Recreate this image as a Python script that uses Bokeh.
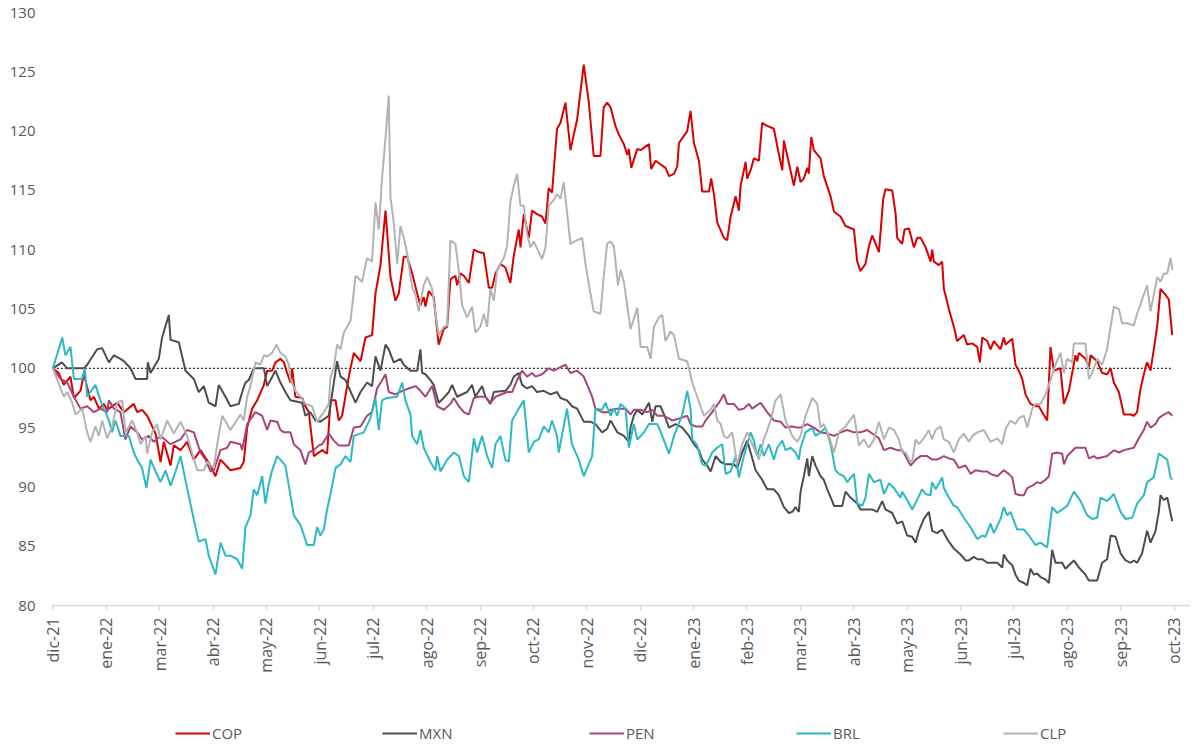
from bokeh.plotting import figure
from bokeh.models import Range1d, FixedTicker, Legend, LegendItem
from bokeh.embed import file_html
from bokeh.resources import INLINE

# x = days since 31-dic-2021 (index base 100 on that date)
tick_labels = ["dic-21", "ene-22", "mar-22", "abr-22", "may-22", "jun-22", "jul-22",
               "ago-22", "sep-22", "oct-22", "nov-22", "dic-22", "ene-23", "feb-23",
               "mar-23", "abr-23", "may-23", "jun-23", "jul-23", "ago-23", "sep-23", "oct-23"]
tick_step_days = 31
y_ticks = [80, 85, 90, 95, 100, 105, 110, 115, 120, 125, 130]
series_names = ["COP", "MXN", "PEN", "BRL", "CLP"]
series_colors = ["#d90000", "#4d4d4d", "#a8437c", "#2cb9c6", "#b3b3b3"]
base_level = 100

cop = [(0.0,100.0),(3.4,99.6),(6.3,98.6),(10.2,99.3),(12.2,97.5),(16.0,98.1),(18.0,99.5),(21.8,97.3),(23.8,97.6),(26.7,96.6),
       (29.6,97.0),(31.5,96.5),(37.3,97.1),(41.2,96.3),(47.0,97.0),(48.9,96.3),(51.8,96.5),(54.7,96.0),(59.6,94.5),(62.5,92.1),
       (64.4,93.8),(68.3,91.8),(70.2,93.5),(74.1,93.1),(77.9,93.8),(81.8,92.3),(85.7,93.1),(91.5,91.8),(94.4,90.9),(97.3,92.3),
       (103.1,91.4),(108.9,91.6),(110.8,92.1),(112.8,95.0),(115.7,96.6),(118.6,97.3),(122.5,98.6),(124.4,99.8),(127.3,99.8),(129.2,100.5),
       (132.1,100.8),(134.1,100.5),(136.0,99.6),(137.9,98.8),(138.9,100.0),(140.8,97.6),(144.7,97.5),(146.6,96.8),(148.6,96.3),(151.5,92.6),
       (153.4,92.8),(156.3,93.1),(159.2,92.8),(161.2,97.3),(164.1,97.3),(166.0,95.6),(167.9,96.0),(171.8,99.3),(174.7,101.3),(178.6,100.6),
       (181.5,102.6),(185.3,102.8),(187.3,106.3),(190.2,108.7),(193.1,113.3),(196.0,107.7),(198.9,105.7),(200.8,106.3),(203.7,109.4),(205.7,109.4),
       (208.6,108.0),(211.5,106.3),
       (213.4,105.3),(215.3,106.0),(216.3,105.2),(218.2,106.5),(221.1,106.0),(224.0,102.0),(226.9,103.3),(228.9,103.5),(230.8,107.5),(233.7,107.8),
       (234.7,107.0),(236.6,108.0),(238.6,107.8),(241.5,107.2),(244.4,110.0),(247.3,109.8),(250.2,109.7),(253.1,106.8),(255.0,106.8),(257.0,108.0),
       (259.8,108.8),(262.7,108.5),(265.6,107.2),(267.6,109.5),(270.5,111.7),(271.5,110.2),(273.4,113.0),(276.3,111.0),(278.2,113.3),(281.1,113.0),
       (284.0,112.8),(286.0,112.2),(287.9,115.2),(289.8,114.8),(292.7,120.2),(294.7,120.7),(297.6,122.4),(300.5,118.4),(304.4,121.0),(308.2,125.6),
       (311.1,122.5),(314.0,117.9),(317.9,117.9),(319.8,122.0),(321.8,122.4),
       (323.8,122.0),(326.7,120.4),(328.6,119.7),(331.5,118.9),(333.5,118.0),(334.4,118.5),(335.8,116.9),(339.3,118.5),(341.2,118.4),(346.1,118.9),
       (347.4,116.8),(349.9,117.5),(355.7,116.9),(357.7,116.2),(360.6,116.4),(362.5,117.0),(363.5,119.0),(368.3,120.0),(370.2,121.7),(372.2,119.0),
       (375.1,117.5),(377.0,114.9),(380.9,114.9),(382.2,116.0),(383.8,114.7),(385.7,112.3),(389.6,111.0),(391.5,110.8),(393.5,112.8),(396.4,114.5),
       (398.3,113.3),(399.3,115.4),(402.2,117.4),(403.1,116.0),(405.1,116.7),(407.0,117.7),(409.9,117.5),(411.8,120.7),(413.8,120.5),(418.6,120.2),
       (420.6,118.7),(423.5,116.7),(424.4,119.2),(426.4,117.9),(430.2,115.4),(432.2,117.0),
       (434.1,115.7),(436.0,116.0),(438.0,116.9),(438.9,116.4),(440.3,119.5),(441.8,118.4),(445.7,117.7),(447.6,116.2),(451.5,114.5),(453.5,113.2),
       (457.3,112.8),(460.2,112.0),(465.1,111.7),(467.0,109.0),(468.9,108.2),(471.8,108.8),(473.8,110.3),(475.7,111.2),(479.6,109.8),(482.1,114.3),
       (483.4,115.1),(487.3,115.0),(489.3,113.0),(490.2,111.0),(493.1,110.5),(494.5,111.7),(497.0,111.8),(499.9,110.2),(501.8,111.0),(503.8,111.0),
       (506.7,110.2),(509.6,109.0),(510.5,110.0),(511.5,109.0),(514.4,108.7),(516.3,109.0),(517.3,106.7),(520.2,105.0),(523.1,103.5),(525.0,102.3),
       (528.9,102.8),(530.9,102.0),(533.8,102.1),(536.7,101.8),(538.2,100.5),(539.6,102.6),(542.5,102.3),
       (544.4,101.6),(546.3,102.3),(550.2,101.6),(552.1,102.6),(553.1,102.0),(557.0,102.5),(558.9,100.3),(560.8,99.8),(562.8,99.1),(564.7,97.8),
       (567.6,97.0),(570.5,96.8),(572.5,96.8),(574.4,96.3),(577.3,95.6),(579.2,101.8),(581.2,99.8),(585.0,100.0),(587.0,97.0),(589.9,98.1),
       (591.8,99.6),(593.7,101.1),(594.7,100.6),(595.7,101.3),(599.5,100.8),(601.5,100.1),(602.5,101.1),(606.3,100.6),(609.2,99.6),(612.1,99.5),
       (614.1,100.0),(616.0,98.8),(618.9,98.0),(621.8,96.1),(625.7,96.1),(627.6,96.0),(629.5,96.3),(631.5,98.3),(634.4,100.1),(635.3,100.5),
       (637.3,99.8),(639.2,101.6),(641.2,103.6),(643.1,106.7),(646.0,106.2),(647.9,105.8),(649.9,102.8)]

mxn = [(0.0,100.0),(5.2,100.5),(8.3,100.0),(18.0,100.0),(19.9,100.3),(25.7,101.6),(28.6,101.7),(32.5,100.5),(35.4,101.1),(39.2,100.8),
       (41.2,100.6),(45.1,100.0),(48.0,99.1),(54.7,99.1),(55.1,100.5),(56.7,99.6),(61.5,100.8),(63.4,102.6),(67.3,104.5),(68.3,102.4),
       (73.1,102.2),(77.0,99.8),(81.8,99.1),(84.7,98.0),(87.6,98.5),(90.5,97.1),(94.4,96.8),(96.3,98.6),(100.2,97.6),
       (103.1,96.8),(107.9,97.0),(109.9,98.0),(111.8,98.8),(113.7,99.0),(116.6,100.0),(122.5,100.0),(124.4,98.5),(126.3,99.0),(129.2,99.8),
       (132.1,98.8),(135.0,98.0),(137.9,97.3),(144.7,97.1),(146.6,96.0),(149.5,96.3),(152.4,95.6),(155.3,95.5),(160.2,96.0),(162.1,97.8),
       (165.0,100.6),(167.0,99.3),(169.9,99.0),(175.7,97.1),(178.6,98.0),(182.4,98.8),(185.3,98.5),(187.3,101.0),(190.2,99.8),(193.1,102.0),
       (195.0,101.6),(197.9,100.5),(201.8,100.8),(203.7,100.3),(207.6,99.8),(211.5,99.8),
       (213.4,101.6),(214.4,99.6),(216.3,99.5),(219.2,99.0),(221.1,98.6),(224.0,97.1),(226.9,97.5),(229.9,98.0),(231.8,98.6),(234.7,97.6),
       (240.5,98.0),(243.4,98.6),(245.3,97.6),(249.2,98.5),(251.1,97.6),(254.0,97.0),(256.0,98.0),(262.7,98.1),(265.6,98.6),(267.6,99.3),
       (270.5,99.6),(272.4,98.6),(275.3,98.3),(278.2,98.5),(281.1,98.0),(285.0,98.1),(288.9,97.8),(292.7,98.0),(294.7,97.5),(298.5,97.3),
       (301.4,96.8),(304.4,96.6),(308.2,95.5),(312.1,95.5),(315.0,95.3),(318.9,94.6),(321.8,94.9),
       (323.8,95.6),(327.7,94.6),(331.5,94.3),(334.4,93.8),(335.4,95.0),(337.3,96.0),(339.3,96.5),(342.2,96.1),(346.1,97.1),(348.0,95.5),
       (349.9,96.8),(352.8,96.8),(355.7,95.8),(357.7,95.0),(361.5,95.3),(365.4,95.0),(369.3,94.3),(372.2,93.6),(375.1,93.1),(377.0,92.3),
       (379.9,91.8),(381.9,91.3),(384.8,92.6),(387.7,92.1),(390.6,91.9),(395.4,91.9),(397.3,91.6),(400.2,92.9),(403.1,93.9),(405.1,92.9),
       (408.0,91.4),(411.8,90.6),(414.7,89.8),(418.6,89.8),(421.5,89.3),(424.4,88.3),(427.3,87.8),(429.3,87.9),(431.2,88.3),(433.1,87.9),
       (434.1,89.6),(436.0,90.9),(438.0,92.4),(438.9,90.9),(440.9,92.6),(442.8,91.8),(445.7,90.9),(447.6,90.6),(449.6,89.8),(452.5,88.8),
       (453.5,88.4),(458.3,88.4),(460.2,89.6),(463.1,89.1),(467.0,88.6),(468.9,88.1),(475.7,88.1),(478.6,87.9),(481.5,88.8),(483.4,88.1),
       (487.3,87.8),(490.2,86.9),(493.1,87.1),(496.0,85.9),(498.9,85.8),(500.9,85.3),(502.8,86.3),(505.7,87.3),(508.6,87.9),(510.5,86.3),
       (513.4,86.1),(516.3,86.4),(519.2,85.6),(523.1,84.8),(527.0,84.3),(529.9,83.8),(531.8,83.8),(534.7,84.1),(536.7,83.9),(539.6,83.9),
       (542.5,83.6),
       (544.4,83.6),(548.3,83.6),(551.2,83.2),(552.1,84.3),(554.1,83.8),(557.0,83.4),(558.9,82.6),(560.8,82.1),(563.8,81.9),(565.7,81.7),
       (567.6,83.1),(569.6,82.6),(571.5,82.7),(573.4,82.4),(576.3,82.2),(578.3,81.9),(580.2,84.7),(582.1,83.6),(586.0,83.6),(587.9,83.1),
       (589.9,83.4),(592.8,83.8),(595.7,83.2),(599.5,82.6),(601.5,82.1),(606.3,82.1),(609.2,83.6),(612.1,83.9),(614.1,85.9),(617.0,85.8),
       (619.9,84.4),(622.8,83.8),(625.7,83.6),(627.6,83.8),(629.5,83.6),(632.4,84.4),(635.3,86.3),(637.3,85.3),(640.2,86.3),(642.1,87.9),
       (643.1,89.3),(645.0,88.9),(647.0,89.1),(649.9,87.1)]

pen = [(0.0,100.0),(4.4,99.1),(8.3,98.8),(12.2,97.6),(16.0,96.6),(19.9,96.8),(23.8,96.3),(27.6,96.6),(31.5,96.3),(32.5,97.3),
       (35.4,96.6),(39.2,96.3),(42.1,94.0),(45.1,95.1),(48.9,94.6),(51.8,94.0),(55.7,94.3),(58.6,93.8),(62.5,94.3),(68.3,93.6),
       (74.1,94.0),(77.9,94.8),(81.8,94.6),(85.7,92.9),(88.6,92.3),(91.5,91.3),(93.4,91.4),(97.3,93.1),(101.2,93.3),
       (103.1,93.8),(108.9,93.6),(109.9,93.1),(112.8,95.3),(117.6,96.3),(121.5,96.0),(124.4,94.8),(126.3,95.6),(130.2,95.5),(132.1,94.8),
       (134.1,94.6),(137.9,94.6),(139.9,93.6),(143.7,93.1),(146.6,91.9),(148.6,92.9),(151.5,93.1),(154.4,93.5),(156.3,93.6),(160.2,94.5),
       (163.1,93.9),(166.0,93.5),(171.8,93.5),(174.7,95.0),(178.6,95.1),(182.4,96.0),(185.3,96.3),(188.2,98.3),(191.1,99.0),(193.1,99.5),
       (195.0,98.0),(198.9,97.8),(202.8,98.1),(206.6,98.3),(210.5,98.5),
       (213.4,98.1),(216.3,97.6),(220.2,98.5),(223.1,96.8),(227.0,96.5),(230.8,97.0),(232.8,97.5),(235.7,96.8),(238.6,96.3),(241.5,96.1),
       (244.4,97.5),(247.3,97.6),(251.1,97.6),(254.0,97.1),(257.0,97.6),(263.7,98.0),(266.6,98.0),(269.5,99.0),(272.4,99.8),(275.3,99.3),
       (278.2,99.6),(280.2,99.3),(284.0,99.5),(287.9,100.0),(290.8,99.8),(294.7,100.1),(297.6,100.3),(300.5,99.6),(304.4,99.8),(308.2,99.3),
       (311.1,98.3),(313.1,97.6),(315.0,96.6),(318.9,96.3),(322.8,96.3),
       (323.8,96.5),(327.7,96.6),(332.5,96.6),(335.4,96.1),(337.3,96.5),(341.2,96.5),(345.1,96.3),(348.0,96.5),(350.9,96.0),(354.8,96.0),
       (359.6,95.6),(364.4,95.8),(368.3,96.0),(370.2,95.3),(373.1,95.1),(377.0,95.1),(379.0,95.6),(382.8,96.3),(386.7,97.1),(389.6,97.8),
       (391.5,97.0),(395.4,97.0),(398.3,96.5),(401.2,96.6),(404.1,97.0),(406.0,96.6),(410.9,97.1),(414.7,96.3),(418.6,95.6),(422.5,95.5),
       (425.4,95.0),(429.3,95.1),(432.2,95.0),
       (434.1,95.0),(438.0,95.3),(441.8,95.0),(445.7,94.6),(449.6,94.5),(453.5,94.3),(457.3,94.6),(461.2,94.8),(465.1,94.6),(468.9,94.6),
       (472.8,94.8),(475.7,94.5),(479.6,94.1),(482.5,93.1),(486.3,93.3),(490.2,93.1),(493.1,93.1),(498.0,91.8),(500.9,92.3),(503.8,92.6),
       (507.6,92.6),(510.5,92.3),(513.4,92.3),(517.3,92.6),(520.2,92.4),(523.1,92.3),(526.0,91.6),(529.9,91.8),(532.8,91.1),(535.7,91.4),
       (539.6,91.3),(542.5,91.3),
       (544.4,91.1),(548.3,90.9),(552.1,91.4),(555.0,91.1),(557.0,90.8),(558.9,89.4),(561.8,89.3),(563.8,89.3),(565.7,89.9),(568.6,90.1),
       (571.5,90.4),(573.4,90.3),(576.3,90.6),(578.3,90.9),(580.2,92.8),(583.1,92.9),(586.0,92.8),(587.0,91.9),(588.9,92.6),(593.7,93.3),
       (599.5,93.3),(601.5,92.4),(604.4,92.6),(606.3,92.4),(612.1,92.6),(616.0,93.1),(618.9,92.9),(621.8,93.1),(627.6,93.3),(630.5,94.1),
       (633.4,94.8),(635.3,95.5),(637.3,95.0),(640.2,95.3),(642.1,95.8),(645.0,96.1),(647.9,96.3),(649.9,96.0)]

brl = [(0.0,100.0),(5.4,102.6),(7.3,101.1),(10.2,101.8),(12.2,99.1),(17.0,99.1),(18.5,100.0),(19.9,97.6),(24.7,98.6),(27.6,97.3),
       (32.5,95.6),(34.4,94.6),(36.3,95.6),(39.2,94.3),(44.1,94.3),(47.0,92.9),(48.9,92.3),(51.8,91.6),(54.3,89.9),(56.7,92.3),
       (59.6,91.3),(62.5,90.4),(65.4,91.4),(68.3,90.1),(71.2,91.3),(74.1,92.6),(77.9,89.9),(82.8,86.6),(84.7,85.4),(88.6,85.6),
       (90.5,84.2),(94.4,82.6),(97.3,85.3),(100.2,84.2),
       (103.1,84.2),(107.0,83.9),(109.9,83.1),(111.8,86.6),(114.7,87.6),(116.6,89.8),(118.6,89.3),(121.5,90.9),(123.4,88.6),(125.4,90.3),
       (127.3,91.4),(130.2,92.6),(132.1,92.3),(135.0,91.8),(137.9,89.3),(139.9,87.6),(143.7,86.8),(147.6,85.1),(151.5,85.1),(153.4,86.6),
       (155.3,85.9),(157.3,86.4),(159.2,88.1),(161.2,89.4),(164.1,91.6),(167.0,91.9),(169.9,92.6),(172.8,92.1),(174.7,94.3),(180.5,94.6),
       (184.4,95.8),(187.3,97.5),(189.2,94.8),(191.1,97.3),(194.0,97.5),(199.9,97.6),(202.8,98.8),(204.7,97.3),(207.6,96.1),(208.6,94.3),
       (211.5,93.6),
       (213.4,94.8),(215.3,93.3),(219.2,92.1),(222.1,91.4),(223.1,92.6),(225.0,91.3),(228.9,92.3),(232.8,92.9),(235.7,92.6),(238.6,90.9),
       (241.5,90.4),(244.4,94.1),(246.3,92.9),(249.2,94.3),(252.1,92.6),(255.0,91.6),(257.0,93.6),(259.8,94.3),(262.7,92.3),(264.7,92.1),
       (266.6,95.6),(270.5,96.6),(273.4,97.3),(276.3,92.9),(279.2,93.8),(282.1,94.0),(285.0,95.1),(287.9,94.6),(289.8,95.6),(292.7,94.3),
       (293.7,92.9),(298.5,96.6),(301.4,93.6),(305.3,92.3),(308.2,90.9),(311.1,91.9),(313.1,92.6),(315.0,96.6),(318.9,96.5),(320.8,97.1),
       (323.8,96.0),(325.7,96.6),(327.7,96.0),(329.6,97.0),(332.5,96.6),(334.4,93.3),(337.3,95.3),(339.3,94.0),(343.2,94.6),(346.1,95.3),
       (350.9,95.3),(353.8,94.3),(357.7,92.8),(360.6,94.3),(362.5,95.0),(365.4,96.1),(368.3,98.1),(370.2,96.6),(371.2,94.0),(374.1,93.5),
       (377.0,91.9),(379.0,91.8),(380.9,92.3),(382.8,92.9),(385.7,93.3),(388.6,93.6),(390.6,91.1),(393.5,91.3),(396.4,92.6),(398.3,90.8),
       (401.2,92.6),(405.1,94.6),(407.0,93.9),(408.9,92.6),(410.9,93.6),(412.8,92.6),(415.7,93.6),(418.6,92.3),(420.6,93.3),(423.5,93.9),
       (425.4,93.1),(428.3,93.3),(431.2,92.9),(433.1,92.3),
       (434.1,93.3),(437.0,94.6),(440.9,95.0),(442.8,94.3),(445.7,94.6),(448.6,95.0),(451.5,93.6),(454.4,91.4),(456.4,91.1),(459.3,90.9),
       (461.2,90.4),(465.1,91.1),(467.0,88.6),(469.9,88.4),(471.8,89.1),(473.8,91.1),(476.7,90.4),(480.5,90.6),(482.5,89.4),(485.4,90.3),
       (488.3,89.9),(492.2,89.1),(493.1,89.6),(496.0,88.9),(498.9,88.1),(501.8,88.9),(504.7,89.8),(506.7,89.4),(509.6,89.3),(510.5,90.4),
       (512.5,89.8),(516.3,90.8),(517.3,89.9),(520.2,89.1),(523.1,88.4),(525.0,88.3),(528.9,87.4),(532.8,86.6),(536.7,85.6),(539.6,85.9),
       (541.5,85.8),(544.4,86.9),
       (546.3,86.1),(550.2,87.3),(552.1,88.3),(554.1,87.6),(556.0,87.9),(559.9,86.4),(563.8,86.4),(566.7,85.9),(570.5,85.1),(573.4,85.3),
       (577.3,84.9),(580.2,88.3),(583.1,87.8),(588.9,88.4),(592.8,89.6),(596.7,88.8),(600.5,87.6),(603.4,87.3),(606.3,87.4),(608.3,89.1),
       (612.1,88.8),(616.0,89.4),(619.9,87.9),(622.8,87.3),(626.7,87.4),(629.5,88.6),(633.4,89.3),(635.3,90.4),(639.2,90.8),(642.1,92.8),
       (644.1,92.6),(647.0,92.3),(648.9,90.8),(649.9,90.6)]

clp = [(0.0,100.0),(6.3,97.6),(8.3,98.0),(11.2,97.1),(13.1,96.1),(17.0,96.6),(19.9,94.6),(21.8,93.8),(24.7,95.1),(26.7,94.3),
       (28.6,95.6),(31.5,94.1),(34.4,95.1),(37.3,97.1),(40.2,97.3),(42.2,94.6),(46.0,95.6),(48.9,94.6),(50.9,93.6),(53.8,94.3),
       (54.7,92.8),(57.6,94.6),(60.5,95.3),(62.5,94.0),(66.3,95.6),(70.2,94.5),(74.1,95.5),(77.9,94.3),(79.9,93.3),(83.8,91.4),
       (87.6,91.4),(89.6,92.1),(93.4,91.6),(95.4,93.6),(98.3,96.0),
       (103.1,94.8),(108.9,96.1),(110.8,95.6),(112.8,97.6),(114.7,98.5),(117.6,100.5),(120.5,100.3),(122.5,101.1),(124.4,101.0),(127.3,101.3),
       (129.8,102.0),(132.1,101.3),(135.0,101.0),(137.0,100.3),(137.9,99.1),(140.8,98.1),(143.7,97.6),(146.6,97.0),(150.5,96.8),(153.4,95.5),
       (157.3,96.3),(160.2,97.0),(161.2,99.3),(163.1,100.0),(165.0,102.0),(167.0,101.6),(168.9,103.0),(172.8,104.0),(175.7,107.8),(179.5,107.3),
       (182.4,109.3),(185.3,109.0),(187.3,114.0),(189.2,111.7),(191.1,116.0),(193.1,119.4),(195.0,123.0),(196.0,114.4),(197.9,112.3),(199.9,108.8),
       (201.8,112.0),(203.7,111.0),(205.7,109.7),(208.6,106.8),(210.5,106.2),(212.4,104.8),
       (215.3,107.0),(217.3,107.7),(220.2,106.7),(222.1,104.6),(224.0,102.8),(226.9,103.5),(228.9,103.6),(230.8,110.8),(233.7,110.5),(235.7,108.2),
       (237.6,105.3),(240.5,104.3),(243.4,105.2),(245.3,103.0),(248.2,103.5),(250.2,104.6),(252.1,103.5),(254.0,106.7),(256.0,105.7),(257.9,108.3),
       (261.8,109.3),(263.7,110.3),(265.6,114.0),(267.6,115.4),(269.5,116.4),(271.5,113.7),(273.4,113.7),(275.3,111.3),(277.3,110.2),(279.2,110.7),
       (282.1,109.8),(284.0,109.2),(286.0,110.2),(287.9,113.7),(290.8,114.2),(292.7,114.7),(294.7,114.3),(296.6,115.7),(300.5,110.5),(304.4,110.8),
       (307.3,111.0),(309.2,108.8),(312.1,106.3),(314.0,104.8),(317.9,104.6),(319.8,107.7),(321.8,110.5),
       (323.8,110.7),(325.7,110.3),(328.1,107.0),(329.6,108.3),(331.5,107.3),(335.4,103.3),(339.3,105.1),(341.2,101.8),(345.1,101.8),(347.0,100.8),
       (349.0,103.5),(351.9,104.3),(353.8,104.5),(355.7,102.3),(358.6,103.1),(360.6,102.8),(363.5,100.8),(368.3,100.6),(371.2,98.8),(376.0,96.8),
       (378.0,96.0),(381.9,96.5),(383.8,97.0),(385.7,95.6),(387.7,95.3),(389.6,94.3),(391.5,94.1),(394.4,94.6),(397.3,91.9),(400.2,93.6),
       (403.1,94.6),(407.0,93.3),(409.9,92.3),(412.8,94.0),(416.7,95.6),(419.6,97.3),(422.5,97.8),(425.4,95.6),(429.3,94.3),(432.2,93.8),
       (434.1,94.3),(437.0,96.0),(440.9,97.5),(443.8,97.0),(445.7,95.0),(447.6,95.3),(450.5,94.3),(453.5,92.9),(456.4,94.6),(460.2,95.1),
       (465.1,96.1),(468.0,93.5),(470.9,94.0),(473.8,93.3),(476.7,94.0),(479.6,95.5),(482.5,94.0),(485.4,95.0),(488.3,94.8),(491.2,94.0),
       (493.1,92.9),(495.1,92.9),(497.0,92.3),(498.9,92.1),(500.9,94.0),(502.8,93.6),(505.7,94.1),(508.6,94.8),(510.5,94.0),(512.5,94.8),
       (515.4,95.1),(517.3,94.0),(520.2,93.8),(523.1,92.9),(526.0,94.0),(528.9,94.5),(531.8,93.8),(533.8,94.3),(536.7,94.6),(540.5,94.8),
       (544.4,93.8),(548.3,94.1),(551.2,93.6),(553.1,94.9),(556.0,95.6),(558.9,95.3),(560.8,95.8),(563.8,96.0),(565.7,95.0),(568.6,96.6),
       (570.5,97.0),(573.4,97.0),(576.3,97.8),(579.2,99.0),(582.1,100.3),(585.0,101.3),(587.0,99.6),(588.9,100.8),(591.8,100.5),(592.8,102.1),
       (599.5,102.1),(601.5,99.1),(603.4,99.6),(606.3,100.8),(609.2,100.3),(612.1,101.6),(613.1,102.6),(616.0,105.2),(618.9,105.0),(620.8,103.8),
       (623.8,103.8),(627.6,103.6),(629.5,104.6),(632.4,105.8),(635.3,107.0),(637.3,104.8),(639.2,106.2),(641.2,107.7),(643.1,107.3),(645.0,108.0),
       (647.0,108.0),(648.9,109.3),(649.9,108.3)]

series_data = [cop, mxn, pen, brl, clp]

FONT = "Open Sans"
LABEL_COLOR = "#595959"

tick_days = [i * tick_step_days for i in range(len(tick_labels))]
x_start, x_end = -7.2, 660.5

# the frame reaches below the 80 line so that tick labels and legend share it;
# the x axis itself is pinned at y = 80
p = figure(frame_width=1150, frame_height=733, output_backend="svg", toolbar_location=None,
           x_range=Range1d(x_start, x_end), y_range=Range1d(68.196, 130),
           min_border_left=40, min_border_right=0, min_border_top=12, min_border_bottom=0)
p.outline_line_color = None
p.xgrid.visible = False
p.ygrid.visible = False
p.background_fill_color = "white"
p.border_fill_color = "white"

# x axis
xa = p.xaxis[0]
xa.fixed_location = 80
xa.bounds = (tick_days[0], x_end)
xa.ticker = FixedTicker(ticks=tick_days)
xa.major_label_overrides = {d: lab for d, lab in zip(tick_days, tick_labels)}
xa.major_label_orientation = 1.5707963
xa.axis_line_color = "#d9d9d9"
xa.axis_line_width = 1.5
xa.major_tick_line_color = "#d9d9d9"
xa.major_tick_line_width = 1.5
xa.major_tick_in = 0
xa.major_tick_out = 5
xa.minor_tick_line_color = None
xa.major_label_standoff = 7
xa.major_label_text_font = FONT
xa.major_label_text_font_size = "16px"
xa.major_label_text_color = LABEL_COLOR

# y axis
ya = p.yaxis[0]
ya.ticker = FixedTicker(ticks=y_ticks)
ya.axis_line_color = None
ya.major_tick_line_color = None
ya.minor_tick_line_color = None
ya.major_tick_in = 0
ya.major_tick_out = 0
ya.major_label_standoff = 5
ya.major_label_text_font = FONT
ya.major_label_text_font_size = "15px"
ya.major_label_text_color = LABEL_COLOR

# base-100 reference line over the data period
first_day = cop[0][0]
last_day = cop[-1][0]
p.line([first_day, last_day], [base_level, base_level], line_color="black",
       line_width=1, line_dash="2 2")

items = []
for name, color, data in zip(series_names, series_colors, series_data):
    days = [d for d, v in data]
    vals = [v for d, v in data]
    r = p.line(days, vals, line_color=color, line_width=2)
    items.append(LegendItem(label=name, renderers=[r]))

legend = Legend(items=items, orientation="horizontal", location=(135, 2),
                glyph_width=35, glyph_height=18, label_standoff=2, label_width=60,
                spacing=110, padding=0, margin=0,
                border_line_alpha=0, background_fill_alpha=0,
                label_text_font=FONT, label_text_font_size="15px",
                label_text_color=LABEL_COLOR)
p.add_layout(legend, "center")

open("out.html", "w").write(file_html(p, INLINE))
